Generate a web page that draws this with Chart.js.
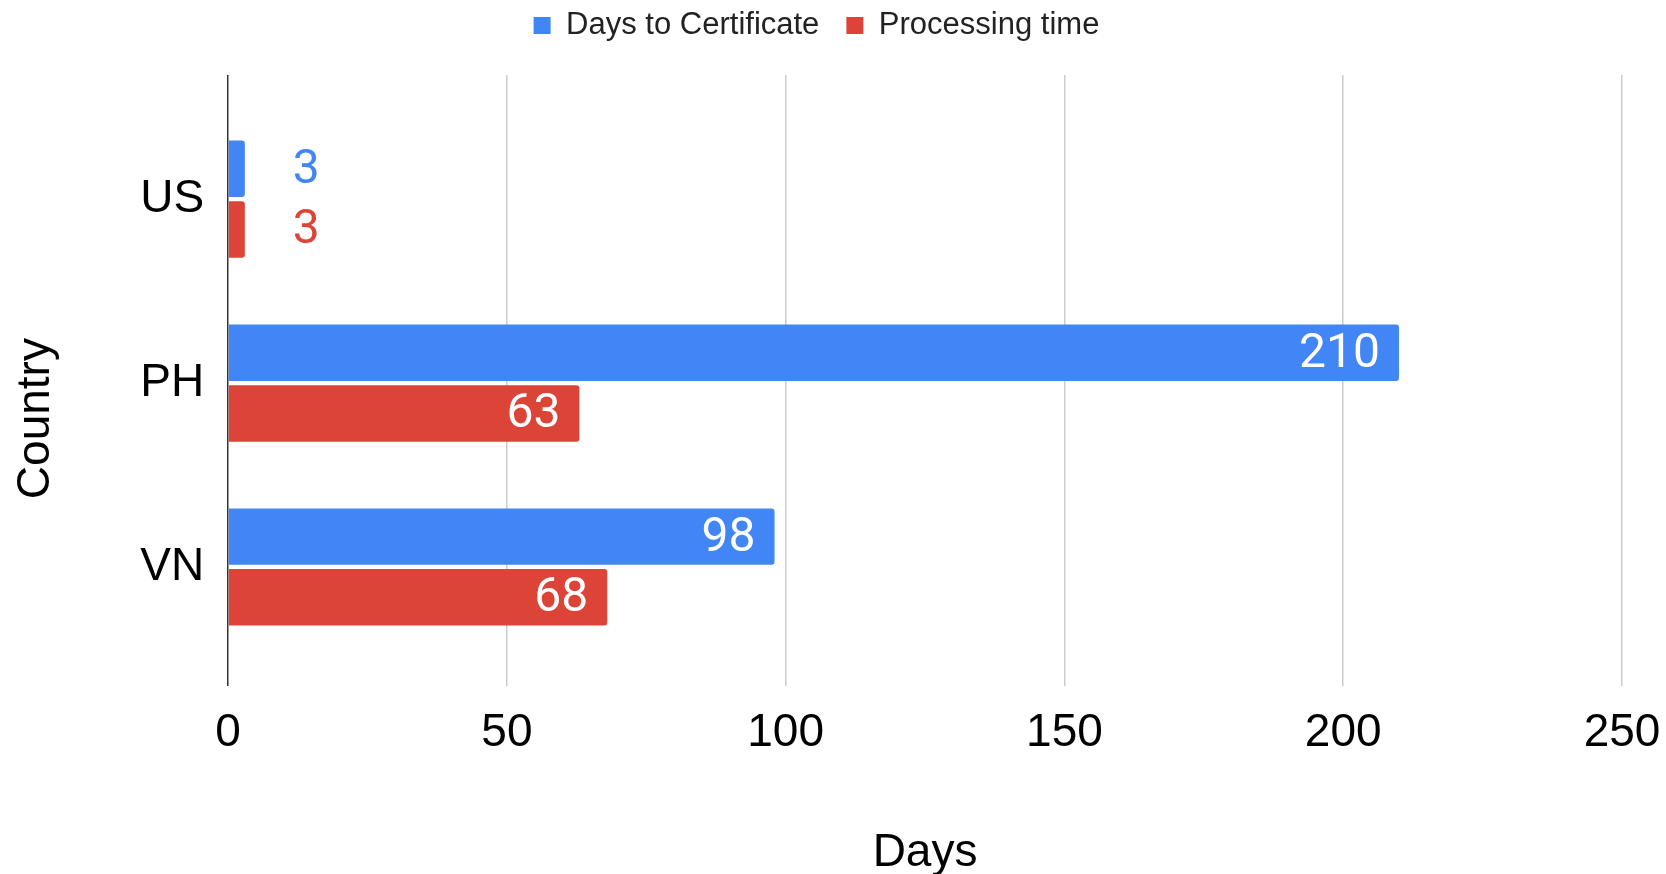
<!DOCTYPE html>
<html>
<head>
<meta charset="utf-8">
<script src="https://cdn.jsdelivr.net/npm/chart.js@4/dist/chart.umd.min.js"></script>
<style>
    html, body { margin: 0; padding: 0; background: #fff; }
    #wrap { width: 1666px; height: 874px; position: relative; }
</style>
</head>
<body>
<div id="wrap"><canvas id="chart"></canvas></div>
<script>
// data
const countries = ['US', 'PH', 'VN'];
const daysToCertificate = [3, 210, 98];
const processingTime = [3, 63, 68];
const xTicks = [0, 50, 100, 150, 200, 250];

const BLUE = '#4285f4';
const RED = '#db4437';
const FONT = "'Liberation Sans', Arial, sans-serif";

//draws the value next to / inside each bar
const valueLabels = {
    id: 'valueLabels',
    afterDatasetsDraw(chart)
    {
        const ctx = chart.ctx;
        ctx.save();
        ctx.font = "48px Roboto, 'Liberation Sans', sans-serif";
        ctx.textBaseline = 'middle';
        chart.data.datasets.forEach((dataset, di) =>
        {
            const meta = chart.getDatasetMeta(di);
            meta.data.forEach((bar, i) =>
            {
                const text = String(dataset.data[i].x);
                const w = ctx.measureText(text).width;
                const barLen = bar.x - bar.base;
                if (barLen > w + 40)
                {
                    ctx.fillStyle = '#ffffff';
                    ctx.textAlign = 'right';
                    ctx.fillText(text, bar.x - 19, bar.y + 2);
                }
                else
                {
                    ctx.fillStyle = dataset.backgroundColor;
                    ctx.textAlign = 'left';
                    ctx.fillText(text, bar.x + 48, bar.y + 2);
                }
            });
        });
        ctx.restore();
    }
};

//gives the legend a bit more room underneath
const legendGap = {
    id: 'legendGap',
    beforeInit(chart)
    {
        const fit = chart.legend.fit;
        chart.legend.fit = function ()
        {
            fit.bind(chart.legend)();
            this.height += 24;
        };
    }
};

const ctx = document.getElementById('chart');
new Chart(ctx,
    {
        type: 'bar',
        data:
            {
                datasets:
                    [
                        {
                            label: 'Days to Certificate',
                            data: daysToCertificate.map((v, i) => ({x: v, y: i})),
                            backgroundColor: BLUE,
                        },
                        {
                            label: 'Processing time',
                            data: processingTime.map((v, i) => ({x: v, y: i})),
                            backgroundColor: RED,
                        }
                    ]
            },
        options:
            {
                indexAxis: 'y',
                responsive: true,
                maintainAspectRatio: false,
                animation: false,
                categoryPercentage: 0.66,
                barPercentage: 0.93,
                borderRadius: 3,
                borderSkipped: 'start',
                layout: { padding: { left: 9, right: 42, top: -17, bottom: 0 } },
                scales:
                    {
                        x:
                            {
                                type: 'linear',
                                min: 0,
                                max: 250,
                                afterBuildTicks: (scale) => { scale.ticks = xTicks.map(v => ({value: v})); },
                                afterFit: (scale) => { scale.paddingRight = 44; },
                                grid:
                                    {
                                        color: (c) => c.tick && c.tick.value === 0 ? '#333333' : '#cccccc',
                                        lineWidth: 1.5,
                                        drawTicks: false,
                                    },
                                border: { display: false },
                                ticks: { color: '#000', font: { family: FONT, size: 46 }, padding: 20, maxRotation: 0 },
                                title:
                                    {
                                        display: true,
                                        text: 'Days',
                                        color: '#000',
                                        font: { family: FONT, size: 46 },
                                        padding: { top: 45, bottom: -7 },
                                    }
                            },
                        y:
                            {
                                type: 'linear',
                                reverse: true,
                                offset: false,
                                min: -0.675,
                                max: 2.645,
                                afterBuildTicks: (scale) => { scale.ticks = countries.map((c, i) => ({value: i})); },
                                grid: { display: false, drawTicks: false, offset: false },
                                border: { display: false },
                                ticks:
                                    {
                                        color: '#000',
                                        font: { family: FONT, size: 46 },
                                        padding: 24,
                                        callback: (v) => countries[v],
                                    },
                                title:
                                    {
                                        display: true,
                                        // trailing spaces push the centred word a little lower, as in the source
                                        text: 'Country      ',
                                        color: '#000',
                                        font: { family: FONT, size: 46 },
                                        padding: { top: 0, bottom: 52 },
                                    }
                            }
                    },
                plugins:
                    {
                        legend:
                            {
                                position: 'top',
                                labels:
                                    {
                                        color: '#222',
                                        font: { family: FONT, size: 31 },
                                        boxWidth: 17,
                                        boxHeight: 17,
                                        padding: 27,
                                    }
                            },
                        tooltip: { enabled: false },
                    }
            },
        plugins: [valueLabels, legendGap]
    });
</script>
</body>
</html>
